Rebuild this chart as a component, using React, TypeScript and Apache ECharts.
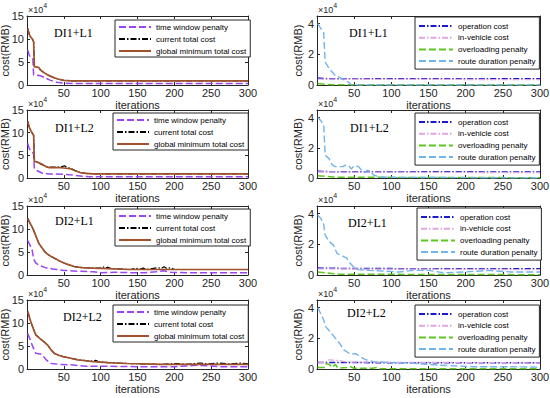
import React, { useEffect, useRef } from "react";
import * as echarts from "echarts";

// ---------- data (values in units of 10^4 RMB) ----------
const panelTitles = ["DI1+L1", "DI1+L2", "DI2+L1", "DI2+L2"];
const leftNames = ["time window penalty", "current total cost", "global minimum total cost"];
const rightNames = ["operation cost", "in-vehicle cost", "overloading penalty", "route duration penalty"];
const xAxisName = "iterations";
const yAxisName = "cost(RMB)";

// DI1+L1 (left)
const twp1 = [[1, 7.6], [3, 6.5], [5, 6.0], [8, 5.6], [9, 2.2], [15, 2.1], [20, 1.9], [25, 1.5], [32, 1.0], [40, 0.6], [50, 0.4], [60, 0.35], [300, 0.35]];
const cur1 = [[1, 12.3], [3, 11.0], [5, 10.4], [7, 10.1], [9, 9.4], [10, 4.0], [16, 3.8], [18, 3.3], [22, 2.8], [28, 2.2], [35, 1.7], [42, 1.3], [50, 1.0], [60, 0.9], [300, 0.9]];
const gmin1 = [[1, 12.3], [3, 11.0], [5, 10.4], [7, 10.1], [9, 9.4], [10, 4.0], [16, 3.8], [18, 3.3], [22, 2.8], [28, 2.2], [35, 1.7], [42, 1.3], [50, 1.0], [60, 0.9], [300, 0.9]];
// DI1+L2 (left)
const twp2 = [[1, 7.6], [3, 6.5], [6, 5.8], [9, 5.4], [10, 2.0], [14, 1.6], [20, 1.1], [30, 0.9], [50, 0.85], [58, 0.7], [65, 0.6], [75, 0.4], [85, 0.3], [300, 0.3]];
const cur2 = [[1, 12.5], [3, 11.2], [6, 10.2], [9, 9.4], [10, 3.8], [15, 3.4], [22, 2.8], [28, 2.4], [45, 2.4], [51, 2.7], [54, 2.3], [60, 2.1], [66, 1.6], [72, 1.2], [80, 1.0], [90, 0.9], [300, 0.9]];
const gmin2 = [[1, 12.5], [3, 11.2], [6, 10.2], [9, 9.4], [10, 3.7], [14, 3.5], [20, 3.1], [26, 2.5], [30, 2.3], [45, 2.3], [50, 2.2], [55, 2.1], [60, 2.0], [65, 1.6], [72, 1.2], [80, 1.0], [90, 0.9], [300, 0.9]];
// DI2+L1 (left)
const twp3 = [[1, 7.5], [4, 6.5], [7, 5.4], [9, 3.5], [12, 2.6], [18, 2.0], [25, 1.6], [35, 1.3], [50, 1.0], [70, 0.8], [90, 0.7], [100, 0.5], [120, 0.6], [140, 0.5], [160, 0.5], [175, 0.7], [185, 0.9], [195, 0.6], [220, 0.5], [300, 0.5]];
const cur3 = [[1, 12.3], [4, 11.3], [8, 10.1], [12, 8.5], [16, 6.9], [20, 6.0], [24, 5.1], [28, 4.5], [33, 4.0], [40, 3.4], [46, 2.9], [52, 2.5], [57, 2.2], [65, 1.8], [75, 1.6], [90, 1.5], [100, 1.5], [103, 1.8], [106, 1.5], [110, 1.7], [114, 1.4], [140, 1.2], [148, 1.5], [152, 1.2], [158, 1.5], [162, 1.2], [178, 1.6], [182, 1.4], [186, 1.8], [190, 1.4], [195, 1.6], [200, 1.2], [300, 1.2]];
const gmin3 = [[1, 12.3], [4, 11.3], [8, 10.1], [12, 8.5], [16, 6.9], [20, 6.0], [24, 5.1], [28, 4.5], [33, 4.0], [40, 3.4], [46, 2.9], [52, 2.5], [57, 2.2], [65, 1.8], [75, 1.6], [90, 1.5], [110, 1.4], [140, 1.2], [300, 1.2]];
// DI2+L2 (left)
const twp4 = [[1, 7.7], [4, 6.5], [8, 4.8], [12, 3.4], [20, 3.2], [26, 2.0], [33, 1.2], [45, 1.0], [60, 0.9], [80, 0.6], [100, 0.6], [150, 0.5], [200, 0.5], [230, 0.8], [245, 0.7], [260, 0.5], [300, 0.5]];
const cur4 = [[1, 12.5], [3, 11.4], [6, 9.9], [9, 8.6], [12, 7.4], [15, 7.0], [20, 6.3], [24, 5.8], [28, 5.2], [32, 4.3], [37, 3.4], [43, 3.0], [49, 2.7], [58, 2.4], [69, 2.0], [80, 1.8], [90, 1.7], [93, 1.9], [97, 1.6], [110, 1.4], [136, 1.2], [160, 1.1], [181, 1.0], [205, 1.2], [215, 1.0], [235, 1.3], [245, 1.1], [260, 1.3], [275, 1.1], [290, 1.3], [300, 1.1]];
const gmin4 = [[1, 12.5], [3, 11.4], [6, 9.9], [9, 8.6], [12, 7.4], [15, 7.0], [20, 6.3], [24, 5.8], [28, 5.2], [32, 4.3], [37, 3.4], [43, 3.0], [49, 2.7], [58, 2.4], [69, 2.0], [80, 1.8], [90, 1.6], [110, 1.4], [136, 1.2], [160, 1.1], [181, 1.0], [300, 1.0]];

// DI1+L1 (right)
const op1 = [[1, 0.45], [10, 0.42], [20, 0.4], [300, 0.4]];
const iv1 = [[1, 0.38], [300, 0.35]];
const ov1 = [[1, 0.1], [10, 0.05], [20, 0.02], [300, 0.02]];
const rd1 = [[1, 4.0], [5, 3.7], [9, 3.4], [11, 1.5], [16, 1.1], [24, 0.65], [34, 0.4], [42, 0.2], [47, 0.0], [300, 0.0]];
// DI1+L2 (right)
const op2 = [[1, 0.45], [15, 0.42], [300, 0.4]];
const iv2 = [[1, 0.4], [300, 0.35]];
const ov2 = [[1, 0.15], [15, 0.1], [25, 0.05], [300, 0.02]];
const rd2 = [[1, 4.0], [5, 3.8], [9, 3.5], [11, 1.5], [16, 1.3], [20, 0.9], [24, 0.75], [35, 0.75], [38, 0.85], [43, 0.8], [46, 0.6], [50, 0.8], [56, 0.75], [60, 0.5], [64, 0.35], [67, 0.5], [72, 0.45], [76, 0.2], [85, 0.05], [300, 0.0]];
// DI2+L1 (right)
const op3 = [[1, 0.45], [50, 0.42], [300, 0.4]];
const iv3 = [[1, 0.4], [300, 0.35]];
const ov3 = [[1, 0.2], [10, 0.15], [20, 0.1], [30, 0.05], [300, 0.02]];
const rd3 = [[1, 3.9], [5, 3.7], [9, 3.3], [11, 2.6], [16, 2.2], [22, 1.95], [27, 1.4], [36, 1.2], [40, 1.1], [43, 0.86], [49, 0.54], [55, 0.35], [70, 0.3], [90, 0.25], [110, 0.2], [130, 0.3], [150, 0.3], [170, 0.15], [200, 0.2], [230, 0.3], [260, 0.2], [300, 0.2]];
// DI2+L2 (right)
const op4 = [[1, 0.42], [300, 0.4]];
const iv4 = [[1, 0.4], [12, 0.45], [15, 0.6], [30, 0.55], [40, 0.45], [300, 0.4]];
const ov4 = [[1, 0.1], [10, 0.1], [12, 0.35], [17, 0.3], [20, 0.1], [25, 0.3], [28, 0.05], [40, 0.1], [45, 0.15], [50, 0.05], [75, 0.05], [80, 0.1], [85, 0.02], [300, 0.02]];
const rd4 = [[1, 4.0], [5, 3.6], [9, 3.2], [11, 2.8], [19, 2.35], [30, 1.7], [36, 1.25], [45, 0.97], [52, 1.0], [58, 0.8], [66, 0.6], [76, 0.48], [100, 0.42], [120, 0.4], [165, 0.25], [210, 0.15], [255, 0.15], [300, 0.12]];

const leftPanels = [[twp1, cur1, gmin1], [twp2, cur2, gmin2], [twp3, cur3, gmin3], [twp4, cur4, gmin4]];
const rightPanels = [[op1, iv1, ov1, rd1], [op2, iv2, ov2, rd2], [op3, iv3, ov3, rd3], [op4, iv4, ov4, rd4]];

// ---------- layout & styles ----------
const GRID_TOPS = [16, 110, 206, 300];
const GRID_HEIGHTS = [69, 68, 69, 69];
const COLS = [
  { left: 27, width: 221, ymax: 15, yint: 5, nameGap: 17 },
  { left: 317, width: 223, ymax: 4.5, yint: 2, nameGap: 14 },
];
const LEFT_LEGEND_POS = [[115, 20], [113, 113], [115, 209], [113, 305]];
const RIGHT_LEGEND_POS = [[415, 17], [415, 113], [417, 208], [415, 305]];
const LEFT_TITLE_POS = [[54, 33], [55, 128], [55, 221], [63, 317]];
const RIGHT_TITLE_POS = [[349, 33], [350, 128], [348, 223], [347, 313]];

const SANS = "'Liberation Sans', Arial, sans-serif";
const SERIF = "'Liberation Serif', 'Times New Roman', serif";
const AX = "#262626";
const DASH = [7, 3];
const DASHDOT = [6, 2, 1.5, 2];

const leftStyles = [
  { color: "#9b45f5", type: DASH, width: 1.5 },
  { color: "#000000", type: DASHDOT, width: 1.2 },
  { color: "#a0522d", type: "solid", width: 1.7 },
];
const rightStyles = [
  { color: "#1a1acc", type: DASHDOT, width: 1.5 },
  { color: "#e0a6e0", type: DASHDOT, width: 1.3 },
  { color: "#5cc81e", type: DASH, width: 1.5 },
  { color: "#72b4ee", type: DASH, width: 1.4 },
];

function buildOption() {
  const grid: any[] = [];
  const xAxis: any[] = [];
  const yAxis: any[] = [];
  const series: any[] = [];
  const legend: any[] = [];
  const graphic: any[] = [];

  for (let col = 0; col < 2; col++) {
    const c = COLS[col];
    for (let row = 0; row < 4; row++) {
      const g = grid.length;
      const top = GRID_TOPS[row];
      grid.push({
        left: c.left, top, width: c.width, height: GRID_HEIGHTS[row],
        containLabel: false, outerBoundsMode: "none", show: false,
      });
      const xi = xAxis.length;
      xAxis.push({
        type: "value", gridIndex: g, min: 0, max: 300, interval: 50, position: "bottom",
        axisLine: { show: true, onZero: false, lineStyle: { color: AX, width: 1 } },
        axisTick: { show: true, inside: true, length: 3, lineStyle: { color: AX } },
        axisLabel: { show: true, showMinLabel: false, fontSize: 11, color: AX, fontFamily: SANS, margin: 2 },
        splitLine: { show: false },
        name: xAxisName, nameLocation: "middle", nameGap: 14, nameMoveOverlap: false,
        nameTextStyle: { fontSize: 11, color: AX, fontFamily: SANS },
      });
      xAxis.push({
        type: "value", gridIndex: g, min: 0, max: 300, interval: 50, position: "top",
        axisLine: { show: true, onZero: false, lineStyle: { color: AX, width: 1 } },
        axisTick: { show: true, inside: true, length: 3, lineStyle: { color: AX } },
        axisLabel: { show: false }, splitLine: { show: false },
      });
      const yi = yAxis.length;
      yAxis.push({
        type: "value", gridIndex: g, min: 0, max: c.ymax, interval: c.yint, position: "left",
        axisLine: { show: true, onZero: false, lineStyle: { color: AX, width: 1 } },
        axisTick: { show: true, inside: true, length: 3, lineStyle: { color: AX } },
        axisLabel: { show: true, showMaxLabel: col === 0, fontSize: 11, color: AX, fontFamily: SANS, margin: 3 },
        splitLine: { show: false },
        name: yAxisName, nameLocation: "middle", nameGap: c.nameGap, nameMoveOverlap: false,
        nameTextStyle: { fontSize: 11, color: AX, fontFamily: SANS },
      });
      yAxis.push({
        type: "value", gridIndex: g, min: 0, max: c.ymax, interval: c.yint, position: "right",
        axisLine: { show: true, onZero: false, lineStyle: { color: AX, width: 1 } },
        axisTick: { show: true, inside: true, length: 3, lineStyle: { color: AX } },
        axisLabel: { show: false }, splitLine: { show: false },
      });

      const names = col === 0 ? leftNames : rightNames;
      const styles = col === 0 ? leftStyles : rightStyles;
      const datas = col === 0 ? leftPanels[row] : rightPanels[row];
      names.forEach((name, k) => {
        const s = styles[k];
        series.push({
          type: "line", name, xAxisIndex: xi, yAxisIndex: yi, data: datas[k],
          symbol: "none", showSymbol: false, silent: true,
          lineStyle: { color: s.color, type: s.type, width: s.width },
          itemStyle: { color: s.color },
        });
      });

      const lp = col === 0 ? LEFT_LEGEND_POS[row] : RIGHT_LEGEND_POS[row];
      legend.push({
        data: names, left: lp[0], top: lp[1], orient: "vertical",
        itemWidth: col === 0 ? 32 : 34, itemHeight: 8, itemGap: col === 0 ? 4 : 3.7,
        padding: col === 0 ? [3, 4, 2, 3] : [5, 4, 4, 3],
        borderColor: AX, borderWidth: 1, backgroundColor: "#ffffff",
        selectedMode: false,
        itemStyle: { opacity: 0 },
        textStyle: { fontSize: 8, color: "#000", fontFamily: SANS },
      });

      const tp = col === 0 ? LEFT_TITLE_POS[row] : RIGHT_TITLE_POS[row];
      graphic.push({
        type: "text", x: tp[0], y: tp[1], z: 100,
        style: { text: panelTitles[row], fontSize: 12, fontFamily: SERIF, fill: "#000", verticalAlign: "middle" },
      });
      graphic.push({
        type: "text", x: c.left + 1, y: top - 14, z: 100,
        style: {
          text: "{a|×10}{b|4}",
          rich: {
            a: { fontSize: 9, fontFamily: SANS, fill: AX, lineHeight: 12, verticalAlign: "bottom" },
            b: { fontSize: 7, fontFamily: SANS, fill: AX, lineHeight: 7, verticalAlign: "top" },
          },
        },
      });
    }
  }

  return {
    animation: false,
    backgroundColor: "#ffffff",
    grid, xAxis, yAxis, series, legend, graphic,
  };
}

export default function App() {
  const ref = useRef<HTMLDivElement>(null);
  useEffect(() => {
    if (!ref.current) return;
    const chart = echarts.init(ref.current, null, { renderer: "svg" });
    chart.setOption(buildOption() as any);
    return () => chart.dispose();
  }, []);
  return (
    <div
      ref={ref}
      style={{ position: "fixed", left: 0, top: 0, width: 550, height: 398, background: "#fff" }}
    />
  );
}
